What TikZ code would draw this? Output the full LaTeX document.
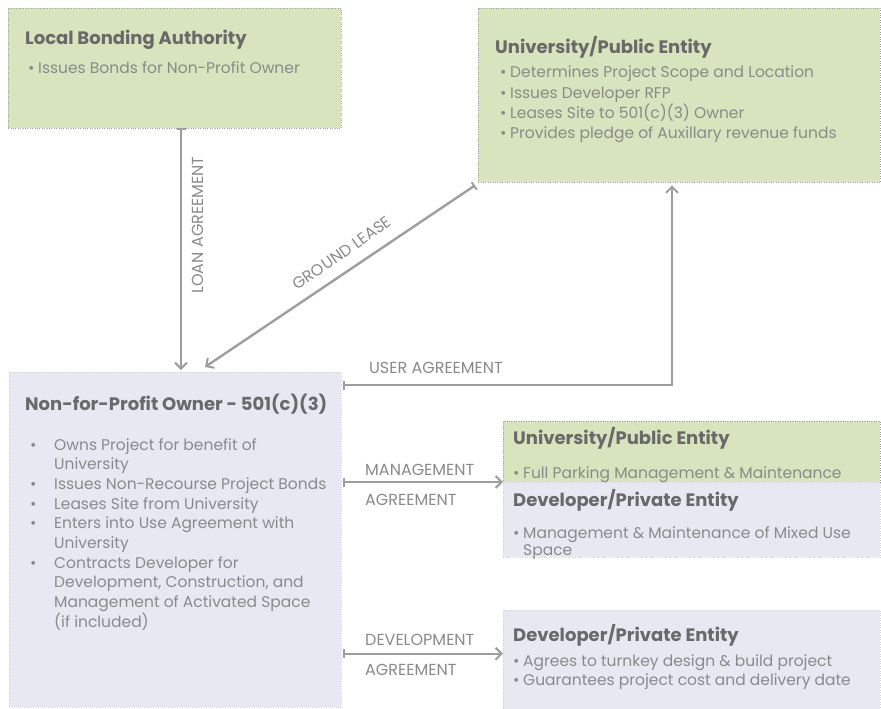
\documentclass[tikz,border=0pt]{standalone}
\usepackage{fontspec}
\setmainfont{Poppins}
\usetikzlibrary{arrows.meta}
\definecolor{boxgreen}{RGB}{215,228,189}
\definecolor{boxlilac}{RGB}{232,232,242}
\definecolor{txtgray}{RGB}{138,138,138}
\definecolor{headgray}{RGB}{105,105,105}
\definecolor{arrgray}{RGB}{158,158,158}
\newcommand{\bl}{\makebox[10pt][l]{\textbullet}}
\newcommand{\blw}{\makebox[24pt][l]{\textbullet}}
\begin{document}
\begin{tikzpicture}[x=1pt,y=-1pt,
    greenbox/.style={draw=arrgray,dotted,fill=boxgreen,anchor=north west,inner sep=0pt},
    lilacbox/.style={draw=boxlilac!80!gray,dotted,fill=boxlilac,anchor=north west,inner sep=0pt},
    head/.style={anchor=north west,inner sep=0pt,text=headgray,font=\fontsize{18}{21}\selectfont\bfseries},
    body/.style={anchor=north west,inner sep=0pt,align=left,text=txtgray,font=\fontsize{15.5}{19.7}\selectfont},
    lbl/.style={text=txtgray,font=\fontsize{16}{18}\selectfont,inner sep=0pt},
    agr/.style={draw=arrgray,line width=2.4pt,{Bar[width=9pt,line width=2pt]}-{Straight Barb[length=6pt,width=12pt,line width=2pt]}}]
		\useasboundingbox (0,0) rectangle (881,709);
		\node[greenbox,minimum width=333pt,minimum height=120pt] (lba) at (8,8) {};
		\node[greenbox,minimum width=402pt,minimum height=174pt] (upe) at (478,8) {};
		\node[lilacbox,minimum width=332pt,minimum height=335pt] (npo) at (9,372) {};
		\node[greenbox,minimum width=377pt,minimum height=61pt] (upe2) at (503,421) {};
		\node[lilacbox,minimum width=377pt,minimum height=75pt] (dpe) at (503,482) {};
		\node[lilacbox,minimum width=377pt,minimum height=99pt] (dpe2) at (503,610) {};
		\coordinate (devpt) at ([yshift=6pt]dpe2.west);
		\node[head] (lbahead) at (25,30) {Local Bonding Authority};
		\node[body] (lbabody) at (28,61) {\bl Issues Bonds for Non-Profit Owner};
		\node[head] (upehead) at (495,36) {University/Public Entity};
		\node[body,font=\fontsize{15.5}{20.3}\selectfont] (upebody) at (500,66) {\bl Determines Project Scope and Location\\
			\bl Issues Developer RFP\\
			\bl Leases Site to 501(c)(3) Owner\\
			\bl Provides pledge of Auxillary revenue funds};
		\node[head] (npohead) at (25,394) {Non-for-Profit Owner - 501(c)(3)};
		\node[body] (npobody) at (30,438) {\blw Owns Project for benefit of\\
			\hspace*{24pt}University\\
			\blw Issues Non-Recourse Project Bonds\\
			\blw Leases Site from University\\
			\blw Enters into Use Agreement with\\
			\hspace*{24pt}University\\
			\blw Contracts Developer for\\
			\hspace*{24pt}Development, Construction, and\\
			\hspace*{24pt}Management of Activated Space\\
			\hspace*{24pt}(if included)};
		\node[head] (upe2head) at (513,427) {University/Public Entity};
		\node[body] (upe2body) at (513,467) {\bl Full Parking Management \& Maintenance};
		\node[head] (dpehead) at (513,489) {Developer/Private Entity};
		\node[body,font=\fontsize{15.5}{17}\selectfont] (dpebody) at (513,526) {\bl Management \& Maintenance of Mixed Use\\
			\hspace*{10pt}Space};
		\node[head] (dpe2head) at (513,624) {Developer/Private Entity};
		\node[body,font=\fontsize{15.5}{19}\selectfont] (dpe2body) at (513,654) {\bl Agrees to turnkey design \& build project\\
			\bl Guarantees project cost and delivery date};
		\draw[agr] ([xshift=173pt]lba.south west) -- ([xshift=172pt,yshift=2pt]npo.north west);
		\draw[agr] ([xshift=-3pt,yshift=-3pt]upe.south west) -- ([xshift=196pt,yshift=5pt]npo.north west);
		\draw[agr] ([xshift=2pt,yshift=-13pt]npo.north east) -| ([xshift=194pt,yshift=-3pt]upe.south west);
		\draw[agr] ([xshift=2pt]npo.east |- dpe.north west) -- (dpe.north west);
		\draw[agr] ([xshift=2pt]npo.east |- devpt) -- (devpt);
		\node[lbl,rotate=90] (loanlbl) at (198,225) {LOAN AGREEMENT};
		\node[lbl,rotate=35] (groundlbl) at (342,253) {GROUND LEASE};
		\node[lbl] (userlbl) at (436,368) {USER AGREEMENT};
		\node[lbl,anchor=west] (mgmtlbl) at (365,470) {MANAGEMENT};
		\node[lbl,anchor=west] (mgmtlbl2) at (365,500) {AGREEMENT};
		\node[lbl,anchor=west] (devlbl) at (365,640) {DEVELOPMENT};
		\node[lbl,anchor=west] (devlbl2) at (365,670) {AGREEMENT};
	    \end{tikzpicture}
\end{document}
